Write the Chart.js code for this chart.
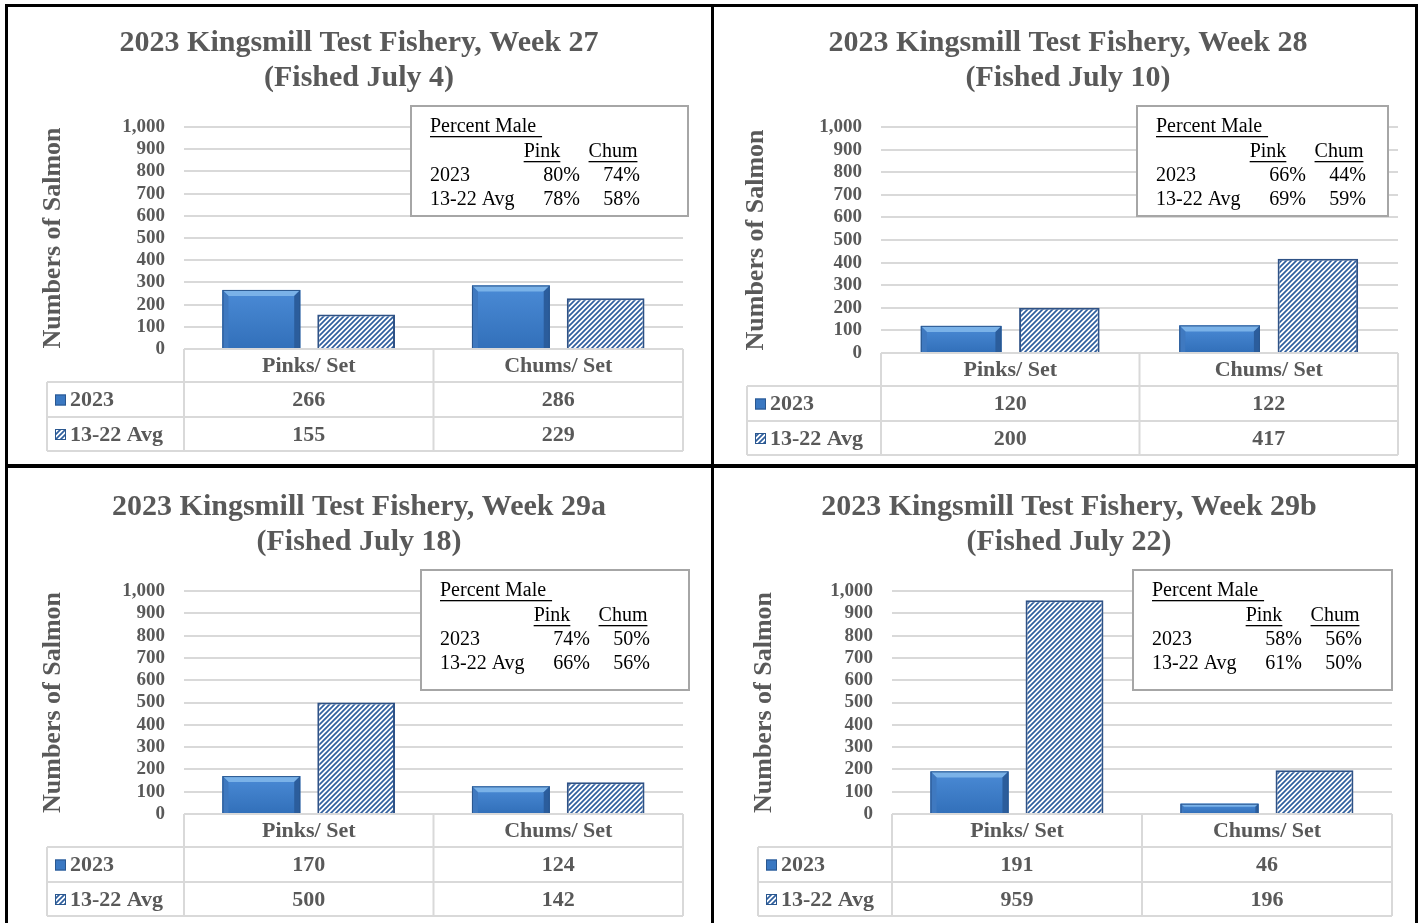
<!DOCTYPE html>
<html>
<head>
<meta charset="utf-8">
<script src="https://cdn.jsdelivr.net/npm/chart.js@4.4.0/dist/chart.umd.min.js"></script>
<style>
html, body { margin: 0; padding: 0; background: #fff; }
#page { position: relative; width: 1424px; height: 923px; overflow: hidden; background: #fff; }
.panel { position: absolute; }
.rule { position: absolute; background: #000; }
</style>
</head>
<body>
<div id="page">
  <div class="panel" style="left:8px;top:7px"><canvas id="wk27" width="702" height="455"></canvas></div>
  <div class="panel" style="left:715px;top:7px"><canvas id="wk28" width="700" height="455"></canvas></div>
  <div class="panel" style="left:8px;top:471px"><canvas id="wk29a" width="702" height="452"></canvas></div>
  <div class="panel" style="left:715px;top:471px"><canvas id="wk29b" width="700" height="452"></canvas></div>
  <!-- frame lines -->
  <div class="rule" style="left:5px;top:4px;width:3px;height:919px"></div>
  <div class="rule" style="left:5px;top:4px;width:1413px;height:3px"></div>
  <div class="rule" style="left:1415px;top:4px;width:3px;height:919px"></div>
  <div class="rule" style="left:711px;top:4px;width:3px;height:919px"></div>
  <div class="rule" style="left:5px;top:464px;width:1413px;height:4px"></div>
</div>

<script>
// ---- data ----
const categories = ['Pinks/ Set', 'Chums/ Set'];
const seriesNames = ['2023', '13-22 Avg'];

const wk27_2023 = [266, 286];
const wk27_avg = [155, 229];
const wk28_2023 = [120, 122];
const wk28_avg = [200, 417];
const wk29a_2023 = [170, 124];
const wk29a_avg = [500, 142];
const wk29b_2023 = [191, 46];
const wk29b_avg = [959, 196];

// percent male: [pink, chum]
const male27_2023 = [80, 74];
const male27_avg = [78, 58];
const male28_2023 = [66, 44];
const male28_avg = [69, 59];
const male29a_2023 = [74, 50];
const male29a_avg = [66, 56];
const male29b_2023 = [58, 56];
const male29b_avg = [61, 50];

const title27 = ['2023 Kingsmill Test Fishery, Week 27', '(Fished July 4)'];
const title28 = ['2023 Kingsmill Test Fishery, Week 28', '(Fished July 10)'];
const title29a = ['2023 Kingsmill Test Fishery, Week 29a', '(Fished July 18)'];
const title29b = ['2023 Kingsmill Test Fishery, Week 29b', '(Fished July 22)'];

const yMin = 0, yMax = 1000, yStep = 100;
const yLabel = 'Numbers of Salmon';

// ---- styling ----
const SERIF = "'Liberation Serif', 'Times New Roman', serif";
const GREY = '#595959';
const GRID = '#d9d9d9';

function makeHatch() {
  const c = document.createElement('canvas');
  c.width = 5; c.height = 5;
  const g = c.getContext('2d');
  g.fillStyle = '#fff';
  g.fillRect(0, 0, 5, 5);
  g.strokeStyle = '#2f5f9e';
  g.lineWidth = 1.7;
  g.beginPath();
  g.moveTo(0, 5); g.lineTo(5, 0);
  g.moveTo(-1, 1); g.lineTo(1, -1);
  g.moveTo(4, 6); g.lineTo(6, 4);
  g.stroke();
  return g.createPattern(c, 'repeat');
}
const hatch = makeHatch();

function solidFill(ctx, y0, y1) {
  const gr = ctx.createLinearGradient(0, y0, 0, y1);
  gr.addColorStop(0, '#4b8bd6');
  gr.addColorStop(1, '#3270ba');
  return gr;
}

// bevel on the solid 2023 bars
const bevelPlugin = {
  id: 'bevel',
  afterDatasetsDraw(chart) {
    const ctx = chart.ctx;
    const meta = chart.getDatasetMeta(0);
    meta.data.forEach(bar => {
      const w = bar.width, l = bar.x - w / 2, r = bar.x + w / 2;
      const t = bar.y, b = bar.base;
      const e = Math.min(6, (b - t) / 3);
      ctx.save();
      ctx.fillStyle = solidFill(ctx, t, b);
      ctx.fillRect(l, t, w, b - t);
      // top light band
      ctx.fillStyle = '#7ab2e8';
      ctx.beginPath();
      ctx.moveTo(l, t); ctx.lineTo(r, t); ctx.lineTo(r - e, t + e); ctx.lineTo(l + e, t + e); ctx.closePath();
      ctx.fill();
      // left side
      ctx.fillStyle = '#3f79c0';
      ctx.beginPath();
      ctx.moveTo(l, t); ctx.lineTo(l + e, t + e); ctx.lineTo(l + e, b); ctx.lineTo(l, b); ctx.closePath();
      ctx.fill();
      // right side
      ctx.fillStyle = '#2b5d9c';
      ctx.beginPath();
      ctx.moveTo(r, t); ctx.lineTo(r - e, t + e); ctx.lineTo(r - e, b); ctx.lineTo(r, b); ctx.closePath();
      ctx.fill();
      ctx.strokeStyle = '#2a578f';
      ctx.lineWidth = 1;
      ctx.strokeRect(l + 0.5, t + 0.5, w - 1, b - t);
      ctx.restore();
    });
  }
};

// data table under the plot
const tablePlugin = {
  id: 'dataTable',
  afterDraw(chart, args, opts) {
    const { ctx, chartArea: a } = chart;
    const x = chart.scales.x;
    const top = a.bottom;
    const y1 = top + opts.rows[0], y2 = y1 + opts.rows[1], y3 = y2 + opts.rows[2];
    const lc = a.left - opts.leftCol;
    const mid = (x.getPixelForValue(0) + x.getPixelForValue(1)) / 2;
    ctx.save();
    ctx.strokeStyle = GRID;
    ctx.lineWidth = 2;
    ctx.beginPath();
    ctx.moveTo(a.left, top); ctx.lineTo(a.right, top);
    [y1, y2, y3].forEach(yy => { ctx.moveTo(lc, yy); ctx.lineTo(a.right, yy); });
    ctx.moveTo(lc, y1); ctx.lineTo(lc, y3);
    [a.left, mid, a.right].forEach(xx => { ctx.moveTo(xx, top); ctx.lineTo(xx, y3); });
    ctx.stroke();

    ctx.font = 'bold 22px ' + SERIF;
    ctx.fillStyle = GREY;
    ctx.textBaseline = 'middle';
    chart.data.datasets.forEach((ds, i) => {
      const cy = i === 0 ? (y1 + y2) / 2 : (y2 + y3) / 2;
      ctx.textAlign = 'center';
      ds.data.forEach((v, j) => ctx.fillText(String(v), x.getPixelForValue(j), cy + 1));
      // legend key
      const kx = lc + 8, ky = cy - 5;
      ctx.fillStyle = i === 0 ? '#3a78c2' : hatch;
      ctx.fillRect(kx, ky, 11, 11);
      ctx.strokeStyle = '#2a578f';
      ctx.lineWidth = 1;
      ctx.strokeRect(kx + 0.5, ky + 0.5, 10, 10);
      ctx.fillStyle = GREY;
      ctx.textAlign = 'left';
      ctx.fillText(ds.label, kx + 15, cy + 1);
    });
    ctx.restore();
  }
};

// "Percent Male" text box
const malePlugin = {
  id: 'maleBox',
  afterDraw(chart, args, opts) {
    const ctx = chart.ctx;
    const { x, y, w, h } = opts.box;
    ctx.save();
    ctx.fillStyle = '#fff';
    ctx.fillRect(x, y, w, h);
    ctx.strokeStyle = '#a6a6a6';
    ctx.lineWidth = 2;
    ctx.strokeRect(x, y, w, h);
    ctx.font = '20px ' + SERIF;
    ctx.fillStyle = '#000';
    ctx.textBaseline = 'middle';
    const underline = (tx, ty, tw) => ctx.fillRect(tx, ty + 9, tw, 1.3);

    ctx.textAlign = 'left';
    ctx.fillText('Percent Male', x + 19, y + 21);
    underline(x + 19, y + 21, ctx.measureText('Percent Male').width + 6);

    ctx.textAlign = 'center';
    [['Pink', x + 131], ['Chum', x + 202]].forEach(([t, cx]) => {
      ctx.fillText(t, cx, y + 46);
      const tw = ctx.measureText(t).width;
      underline(cx - tw / 2, y + 46, tw);
    });

    const rows = [[seriesNames[0], opts.cur, y + 70], [seriesNames[1], opts.avg, y + 94]];
    rows.forEach(([lab, vals, ry]) => {
      ctx.textAlign = 'left';
      ctx.fillText(lab, x + 19, ry);
      ctx.textAlign = 'right';
      ctx.fillText(vals[0] + '%', x + 169, ry);
      ctx.fillText(vals[1] + '%', x + 229, ry);
    });
    ctx.restore();
  }
};

function makeChart(id, title, cur, avg, maleCur, maleAvg, lay) {
  return new Chart(document.getElementById(id), {
    type: 'bar',
    data: {
      labels: categories,
      datasets: [
        { label: seriesNames[0], data: cur, backgroundColor: '#3a78c2', borderWidth: 0 },
        { label: seriesNames[1], data: avg, backgroundColor: hatch, borderColor: '#2f5286', borderWidth: 2 }
      ]
    },
    options: {
      responsive: false,
      animation: false,
      categoryPercentage: 0.76,
      barPercentage: 0.82,
      layout: { padding: { left: lay.padLeft, right: lay.padRight, top: 0, bottom: lay.padBottom } },
      scales: {
        x: {
          grid: { display: false, drawTicks: false },
          border: { display: false },
          ticks: { color: GREY, font: { family: SERIF, size: 22, weight: 'bold' }, padding: 4 },
          afterFit: s => { s.height = 102; }
        },
        y: {
          min: yMin, max: yMax,
          grid: { color: GRID, lineWidth: 2, drawTicks: false },
          border: { display: false },
          ticks: {
            stepSize: yStep,
            autoSkip: false,
            padding: 19,
            color: GREY,
            font: { family: SERIF, size: 19, weight: 'bold', lineHeight: 1 },
            callback: v => v.toLocaleString('en-US')
          },
          title: {
            display: true, text: yLabel, color: GREY,
            font: { family: SERIF, size: 26, weight: 'bold' },
            padding: { top: 3, bottom: 4 }
          },
          afterFit: s => { s.width = lay.yWidth; }
        }
      },
      plugins: {
        legend: { display: false },
        tooltip: { enabled: false },
        title: {
          display: true, text: title, color: GREY,
          font: { family: SERIF, size: 30, weight: 'bold', lineHeight: 1.167 },
          padding: { top: 18.5, bottom: 31.5 }
        },
        dataTable: { rows: [33, 35, 34], leftCol: lay.leftCol },
        maleBox: { box: lay.box, cur: maleCur, avg: maleAvg }
      }
    },
    plugins: [bevelPlugin, tablePlugin, malePlugin]
  });
}

makeChart('wk27', title27, wk27_2023, wk27_avg, male27_2023, male27_avg,
  { padLeft: 27, padRight: 27, padBottom: 11, yWidth: 149, leftCol: 137, box: { x: 403, y: 99, w: 277, h: 110 } });
makeChart('wk28', title28, wk28_2023, wk28_avg, male28_2023, male28_avg,
  { padLeft: 23, padRight: 17, padBottom: 7, yWidth: 143, leftCol: 134, box: { x: 422, y: 99, w: 251, h: 110 } });
makeChart('wk29a', title29a, wk29a_2023, wk29a_avg, male29a_2023, male29a_avg,
  { padLeft: 27, padRight: 27, padBottom: 7, yWidth: 149, leftCol: 137, box: { x: 413, y: 99, w: 268, h: 120 } });
makeChart('wk29b', title29b, wk29b_2023, wk29b_avg, male29b_2023, male29b_avg,
  { padLeft: 31, padRight: 23, padBottom: 7, yWidth: 146, leftCol: 134, box: { x: 418, y: 99, w: 259, h: 120 } });
</script>
</body>
</html>
